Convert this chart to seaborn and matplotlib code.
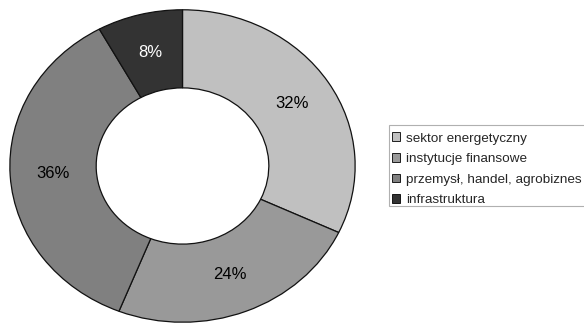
import matplotlib
matplotlib.use("Agg")
import matplotlib.pyplot as plt
import seaborn as sns
from matplotlib.patches import Patch, Rectangle

sns.set_style("white")
plt.rcParams['font.family'] = ['Liberation Sans', 'DejaVu Sans']

categories = ["sektor energetyczny", "instytucje finansowe",
              "przemysł, handel, agrobiznes", "infrastruktura"]
values = [32, 24, 36, 8]
colors = ["#c0c0c0", "#999999", "#808080", "#333333"]
label_colors = ["#000000", "#000000", "#000000", "#ffffff"]

W, H = 584, 324
fig = plt.figure(figsize=(W / 100, H / 100), dpi=100)
# the ring is slightly wider than tall
ax = fig.add_axes([9 / W, 1 / H, 347 / W, 314 / H])

wedges, texts, autotexts = ax.pie(
    values, colors=colors, startangle=90, counterclock=False,
    radius=1.0, autopct=lambda p: f"{p:.0f}%", pctdistance=0.75,
    wedgeprops=dict(width=0.5, edgecolor="#111111", linewidth=0.9),
    textprops=dict(fontsize=12),
)
for t, c in zip(autotexts, label_colors):
    t.set_color(c)
ax.set_aspect("auto")
ax.set_xlim(-1.005, 1.005)
ax.set_ylim(-1.005, 1.005)
ax.axis("off")

# legend frame, running past the right edge of the figure
fig.patches.append(Rectangle((389 / W, 1 - 206 / H), 300 / W, 81 / H,
                             transform=fig.transFigure, facecolor="white",
                             edgecolor="#b0b0b0", linewidth=0.8, zorder=0))

handles = [Patch(facecolor=c, edgecolor="black", linewidth=0.6) for c in colors]
leg = fig.legend(handles, categories, loc="upper left",
                 bbox_to_anchor=(392 / W, 1 - 132.5 / H),
                 fontsize=9.7, frameon=False,
                 handlelength=0.6, handleheight=0.6, handletextpad=0.45,
                 labelspacing=0.64, borderpad=0, borderaxespad=0)

fig.savefig("out.png", dpi=100)
